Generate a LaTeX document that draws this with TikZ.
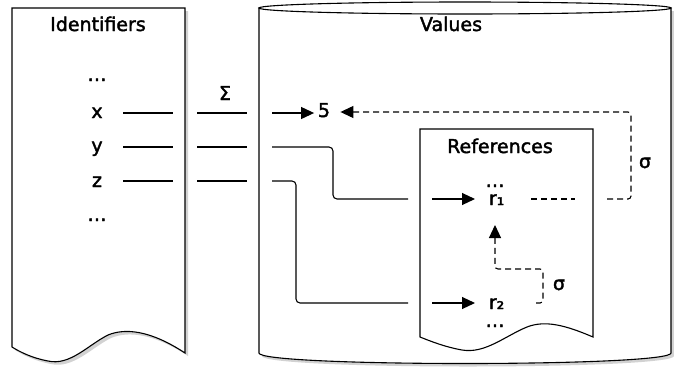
\documentclass[tikz,border=0pt]{standalone}
\usepackage{fontspec}
\setmainfont{DejaVu Sans}[BoldFont=DejaVu Sans, BoldFeatures={FakeBold=2}]
\usetikzlibrary{arrows.meta,shadows}
\tikzset{every node/.append style={font=\fontsize{19}{22}\selectfont\bfseries}}

\begin{document}
\begin{tikzpicture}[x=1pt, y=-1pt, line width=1.1pt,
    txt/.style={anchor=base},
    refline/.style={dash pattern=on 6pt off 4pt},
    tip/.style={-{Triangle[length=13pt, width=12pt]}},
    into/.style={tip, shorten >=10pt},
    shade/.style={drop shadow={shadow xshift=3pt, shadow yshift=-3pt, opacity=0.35}}]
    \fill[white] (0,0) rectangle (674,381);
    \useasboundingbox (0,0) rectangle (674,381);

    % identifiers (document shape)
    \draw[shade, fill=white] (12,8) -- (185,8) -- (185,353)
      .. controls (150,330) and (125,328) .. (108,335)
      .. controls (88,345) and (70,366) .. (48,361)
      .. controls (32,358) and (20,352) .. (12,347) -- cycle;

    % values (cylinder)
    \draw[shade, fill=white] (259,8) -- (259,353)
      .. controls (259,367) and (671,367) .. (671,353) -- (671,8) -- cycle;
    \draw[fill=white] (465,8) ellipse [x radius=206, y radius=6];

    % references (document shape)
    \draw[fill=white] (420,129) -- (593,129) -- (593,337)
      .. controls (565,325) and (545,320) .. (527,327)
      .. controls (505,336) and (485,354) .. (462,350)
      .. controls (445,347) and (430,341) .. (420,337) -- cycle;

    \node[txt] (idtitle) at (98,31) {Identifiers};
    \node[txt] (iddots1) at (97,81) {\dots};
    \node[txt] (idx) at (97,118) {x};
    \node[txt] (idy) at (97,152) {y};
    \node[txt] (idz) at (97,187) {z};
    \node[txt] (iddots2) at (97,221) {\dots};

    \node[txt] (valtitle) at (451,31) {Values};
    \node[txt] (five) at (324,117) {5};

    \node[txt] (reftitle) at (500,153) {References};
    \node[txt] (refdots1) at (495,187) {\dots};
    \node[txt, anchor=base west] (rone) at (485,205) {r₁};
    \node[txt, anchor=base west] (rtwo) at (485,309) {r₂};
    \node[txt] (refdots2) at (495,327) {\dots};

    \node[txt] (sigmabig) at (225,100) {Σ};
    \node[txt] (sigmaa) at (645,168) {σ};
    \node[txt] (sigmab) at (559,290) {σ};

    % connector points
    \coordinate (xa) at (123,113); \coordinate (xb) at (173,113);
    \coordinate (xc) at (197,113); \coordinate (xd) at (247,113);
    \coordinate (xe) at (272,113);
    \coordinate (ya) at (123,147); \coordinate (yb) at (173,147);
    \coordinate (yc) at (197,147); \coordinate (yd) at (247,147);
    \coordinate (ye) at (272,147); \coordinate (ybend) at (333,147);
    \coordinate (yf) at (408,199); \coordinate (yg) at (432,199);
    \coordinate (za) at (123,181); \coordinate (zb) at (173,181);
    \coordinate (zc) at (197,181); \coordinate (zd) at (247,181);
    \coordinate (ze) at (272,181); \coordinate (zbend) at (296,181);
    \coordinate (zf) at (408,303); \coordinate (zg) at (432,303);
    \coordinate (ra) at (531,199); \coordinate (rb) at (575,199);
    \coordinate (rc) at (607,199); \coordinate (rturn) at (631,112);
    \coordinate (sa) at (536,303); \coordinate (sturn) at (543,269);
    \coordinate (sb) at (495,225);

    \draw (xa) -- (xb);
    \draw (xc) -- (xd);
    \draw[tip] (xe) -- (xe -| five.west);
    \draw (ya) -- (yb);
    \draw (yc) -- (yd);
    \draw[rounded corners=4pt] (ye) -- (ybend) |- (yf);
    \draw[into] (yg) -- (yg -| rone.west);
    \draw (za) -- (zb);
    \draw (zc) -- (zd);
    \draw[rounded corners=4pt] (ze) -- (zbend) |- (zf);
    \draw[into] (zg) -- (zg -| rtwo.west);

    \draw[refline] (ra) -- (rb);
    \draw[refline, tip, shorten >=6.5pt, rounded corners=3pt]
      (rc) -| (rturn) -- (rturn -| five.east);
    \draw[refline, tip, rounded corners=3pt] (sa) -| (sturn) -| (sb);
\end{tikzpicture}
\end{document}
